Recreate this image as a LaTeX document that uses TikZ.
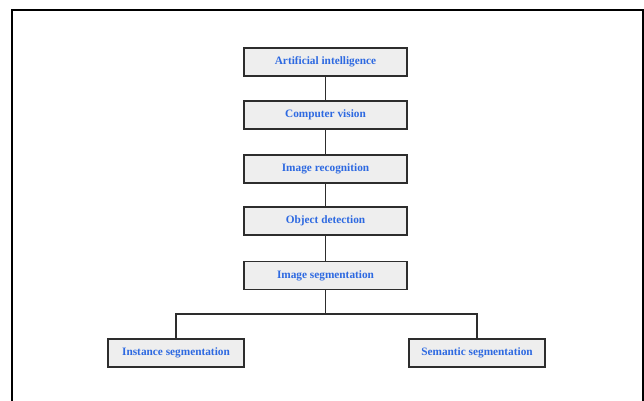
\documentclass[tikz,border=0pt]{standalone}
\usepackage{fontspec}
\setmainfont{Liberation Serif}
\usepackage{xcolor}
\usepackage{tikz}
\definecolor{labelblue}{RGB}{45,105,225}
\definecolor{boxgray}{RGB}{238,238,238}
\definecolor{edgegray}{RGB}{45,45,45}

\begin{document}
\begin{tikzpicture}[x=1pt,y=-1pt,%
% common options for the boxes:
box/.style = {rectangle, draw=edgegray, fill=boxgray, line width=1.5pt,
            minimum width=163pt, minimum height=28pt, inner sep=0,
            font=\fontsize{11.3}{13}\selectfont\bfseries, text=labelblue},
% smaller boxes at the bottom:
leaf/.style = {box, minimum width=136pt},
% common options for the links:
link/.style = {draw=edgegray, line width=1.3pt}]
\clip (0,0) rectangle (644,400);
\useasboundingbox (0,0) rectangle (644,400);
\draw[line width=2pt] (12,10) rectangle (643,430);
\node[box] (A0) at (325.5,62) {Artificial intelligence};
\node[box] (A1) at (325.5,115) {Computer vision};
\node[box] (A2) at (325.5,169) {Image recognition};
\node[box] (A3) at (325.5,221) {Object detection};
\node[box] (A4) at (325.5,275.5) {Image segmentation};
\node[leaf] (B0) at (176,353) {Instance segmentation};
\node[leaf] (B1) at (477,353) {Semantic segmentation};
\coordinate (split) at (325.5,314);
\draw[link] (A0.south) to (A1.north);
\draw[link] (A1.south) to (A2.north);
\draw[link] (A2.south) to (A3.north);
\draw[link] (A3.south) to (A4.north);
\draw[link] (A4.south) to (split);
\draw[link] (split) -| (B0.north);
\draw[link] (split) -| (B1.north);
\end{tikzpicture}
\end{document}
